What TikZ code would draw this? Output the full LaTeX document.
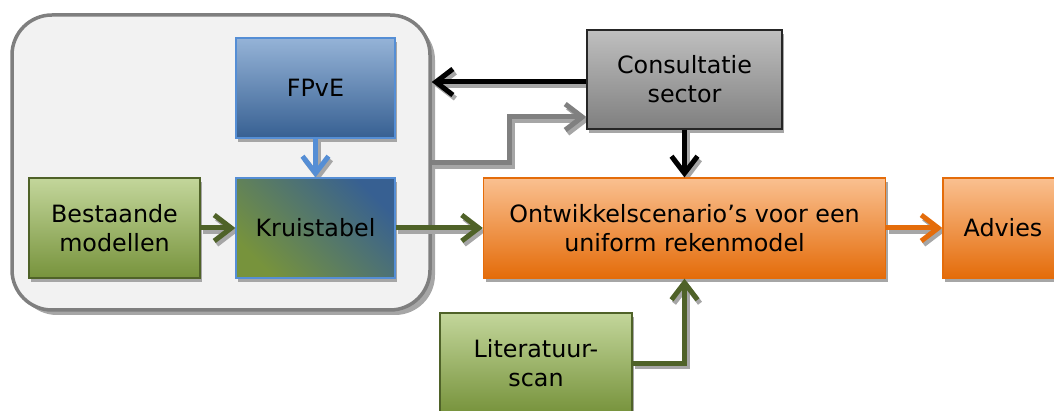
\documentclass[tikz,border=0pt]{standalone}
\usepackage{fontspec}
\setmainfont{DejaVu Sans}
\usetikzlibrary{arrows.meta,shadows,calc}
\definecolor{gTop}{HTML}{C3D69B}
\definecolor{gBot}{HTML}{77933C}
\definecolor{gLine}{HTML}{4F6228}
\definecolor{bTop}{HTML}{95B3D7}
\definecolor{bBot}{HTML}{376092}
\definecolor{bLine}{HTML}{558ED5}
\definecolor{kTop}{HTML}{BFBFBF}
\definecolor{kBot}{HTML}{7F7F7F}
\definecolor{kLine}{HTML}{262626}
\definecolor{oTop}{HTML}{FAC090}
\definecolor{oBot}{HTML}{E46C0A}
\definecolor{oLine}{HTML}{E46C0A}
\definecolor{bigFill}{HTML}{F2F2F2}
\definecolor{bigLine}{HTML}{7F7F7F}
\definecolor{grayArr}{HTML}{808080}
\definecolor{shadowc}{HTML}{A6A6A6}
\newcommand\dfont{\fontsize{23.8}{29}\selectfont}
\pgfdeclarelayer{bg}
\pgfdeclarelayer{mid}
\pgfsetlayers{bg,mid,main}
\begin{document}
\begin{tikzpicture}[x=1pt,y=-1pt,
  box/.style={draw, line width=1.3pt, align=center, font=\dfont, inner sep=0pt,
    drop shadow={shadow xshift=2pt, shadow yshift=-4.5pt, fill=shadowc, opacity=1}},
  greenbox/.style={box, draw=gLine, top color=gTop, bottom color=gBot},
  bluebox/.style={box, draw=bLine, top color=bTop, bottom color=bBot},
  graybox/.style={box, draw=kLine, top color=kTop, bottom color=kBot},
  orangebox/.style={box, draw=oLine, top color=oTop, bottom color=oBot},
  arr/.style={line width=5pt, -{Straight Barb[length=17pt,width=26pt]}},
  shd/.style={draw=shadowc, transform canvas={shift={(2.5pt,-3.5pt)}}}
]
\useasboundingbox (0,0) rectangle (1054,411);

% container
\begin{pgfonlayer}{bg}
\node[draw=bigLine, fill=bigFill, line width=3.5pt, rounded corners=40pt,
  minimum width=418pt, minimum height=295pt, inner sep=0pt,
  drop shadow={shadow xshift=5pt, shadow yshift=-5pt, fill=shadowc, opacity=1}]
  (big) at (221,162.5) {};
\end{pgfonlayer}

% boxes
\node[bluebox, minimum width=159pt, minimum height=100pt] (fpve) at (315.5,88) {FPvE};
\node[box, draw=bLine, top color=bBot, bottom color=gBot, shading angle=-45,
  minimum width=159pt, minimum height=100pt] (krui) at (315.5,228) {Kruistabel};
\node[greenbox, minimum width=171pt, minimum height=100pt] (best) at (114.5,228) {Bestaande\\modellen};
\node[graybox, minimum width=195pt, minimum height=99pt] (cons) at (684.5,79.5) {Consultatie\\sector};
\node[orangebox, minimum width=402pt, minimum height=100pt] (ont) at (684.5,228) {Ontwikkelscenario’s voor een\\uniform rekenmodel};
\node[orangebox, minimum width=120pt, minimum height=100pt] (adv) at (1003,228) {Advies};
\node[greenbox, minimum width=192pt, minimum height=100pt] (lit) at (536,363) {Literatuur-\\scan};

\coordinate (g0) at (big.east |- 0,163);
\coordinate (g1) at (cons.west |- 0,117);
\coordinate (c0) at (cons.west |- 0,82);

% arrow shadows
\begin{pgfonlayer}{mid}
\draw[arr, shd] (c0) -- (c0 -| big.east);
\draw[arr, shd] (g0) -- ++(78,0) |- (g1);
\draw[arr, shd] (cons.south) -- (ont.north);
\draw[arr, shd] (fpve.south) -- (krui.north);
\draw[arr, shd] (best.east) -- (krui.west);
\draw[arr, shd] (krui.east) -- (ont.west);
\draw[arr, shd] (ont.east) -- (adv.west);
\draw[arr, shd] (lit.east) -| (ont.south);
\end{pgfonlayer}

% arrows
\draw[arr, black] (c0) -- (c0 -| big.east);
\draw[arr, grayArr] (g0) -- ++(78,0) |- (g1);
\draw[arr, black] (cons.south) -- (ont.north);
\draw[arr, bLine] (fpve.south) -- (krui.north);
\draw[arr, gLine] (best.east) -- (krui.west);
\draw[arr, gLine] (krui.east) -- (ont.west);
\draw[arr, oLine] (ont.east) -- (adv.west);
\draw[arr, gLine] (lit.east) -| (ont.south);
\end{tikzpicture}
\end{document}
